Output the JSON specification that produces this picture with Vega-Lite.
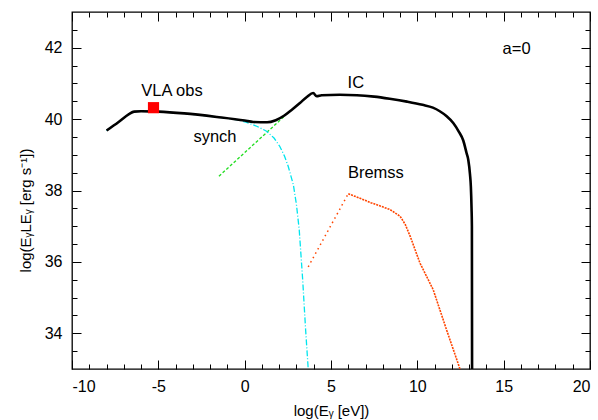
{
  "$schema": "https://vega.github.io/schema/vega-lite/v6.json",
  "width": 518,
  "height": 357,
  "autosize": "none",
  "padding": {"left": 72, "top": 12, "right": 8, "bottom": 51},
  "background": "white",
  "config": {
    "view": {"stroke": "black", "strokeWidth": 1.3},
    "font": "Liberation Sans",
    "axis": {"domain": false, "ticks": false, "labelFont": "Liberation Sans", "titleFont": "Liberation Sans", "labelFontSize": 16, "titleFontSize": 15, "titleFontWeight": "normal", "labelColor": "black", "titleColor": "black"}
  },
  "datasets": {
    "total": [
      {"x": -8.0, "y": 39.68}, {"x": -7.3, "y": 39.92}, {"x": -6.7, "y": 40.14}, {"x": -6.4, "y": 40.21}, {"x": -6.0, "y": 40.22},
      {"x": -5.0, "y": 40.21}, {"x": -3.5, "y": 40.16}, {"x": -1.6, "y": 40.06}, {"x": 0.0, "y": 39.96}, {"x": 0.5, "y": 39.92},
      {"x": 1.3, "y": 39.91}, {"x": 1.8, "y": 39.97}, {"x": 2.3, "y": 40.1}, {"x": 2.7, "y": 40.25}, {"x": 3.2, "y": 40.45},
      {"x": 3.6, "y": 40.62}, {"x": 3.97, "y": 40.73}, {"x": 4.17, "y": 40.64}, {"x": 4.46, "y": 40.67}, {"x": 5.5, "y": 40.68},
      {"x": 6.5, "y": 40.67}, {"x": 7.5, "y": 40.63}, {"x": 8.4, "y": 40.57}, {"x": 9.4, "y": 40.49}, {"x": 10.3, "y": 40.4},
      {"x": 10.9, "y": 40.32}, {"x": 11.3, "y": 40.22}, {"x": 11.7, "y": 40.08}, {"x": 12.08, "y": 39.89}, {"x": 12.4, "y": 39.65},
      {"x": 12.66, "y": 39.4}, {"x": 12.85, "y": 39.05}, {"x": 12.95, "y": 38.86}, {"x": 13.05, "y": 38.45}, {"x": 13.1, "y": 38.11},
      {"x": 13.14, "y": 37.5}, {"x": 13.16, "y": 37.0}, {"x": 13.17, "y": 33.0}
    ],
    "synch": [
      {"x": -8.0, "y": 39.68}, {"x": -7.3, "y": 39.92}, {"x": -6.7, "y": 40.14}, {"x": -6.4, "y": 40.21}, {"x": -6.0, "y": 40.22},
      {"x": -5.0, "y": 40.21}, {"x": -3.5, "y": 40.16}, {"x": -1.6, "y": 40.06}, {"x": -0.4, "y": 39.98}, {"x": 0.11, "y": 39.91},
      {"x": 0.7, "y": 39.8}, {"x": 1.27, "y": 39.66}, {"x": 1.7, "y": 39.47}, {"x": 2.03, "y": 39.24}, {"x": 2.3, "y": 38.97},
      {"x": 2.52, "y": 38.68}, {"x": 2.82, "y": 38.16}, {"x": 3.0, "y": 37.6}, {"x": 3.16, "y": 36.9}, {"x": 3.36, "y": 35.5},
      {"x": 3.53, "y": 34.1}, {"x": 3.68, "y": 33.0}
    ],
    "ic": [
      {"x": -1.49, "y": 38.4}, {"x": 2.3, "y": 40.08}
    ],
    "bremss": [
      {"x": 3.68, "y": 35.86}, {"x": 6.0, "y": 37.91}, {"x": 6.8, "y": 37.76}, {"x": 7.3, "y": 37.66}, {"x": 8.4, "y": 37.47},
      {"x": 9.0, "y": 37.28}, {"x": 9.3, "y": 37.05}, {"x": 9.6, "y": 36.7}, {"x": 10.15, "y": 35.97}, {"x": 10.92, "y": 35.22},
      {"x": 11.69, "y": 34.1}, {"x": 12.47, "y": 33.0}
    ],
    "obs": [{"x": -5.28, "y": 40.32}],
    "labels": [
      {"x": -4.21, "y": 40.78, "text": "VLA obs"},
      {"x": -1.72, "y": 39.5, "text": "synch"},
      {"x": 6.44, "y": 41.01, "text": "IC"},
      {"x": 7.6, "y": 38.49, "text": "Bremss"},
      {"x": 15.75, "y": 41.96, "text": "a=0"}
    ]
  },
  "resolve": {"axis": {"x": "independent", "y": "independent"}},
  "layer": [
    {
      "data": {"name": "ic"},
      "mark": {"type": "line", "color": "#22dd22", "strokeWidth": 1.3, "strokeDash": [3, 2], "clip": true},
      "encoding": {
        "x": {"field": "x", "type": "quantitative", "scale": {"domain": [-10, 20], "nice": false, "zero": false},
          "axis": {"orient": "bottom", "title": "log(Eᵧ [eV])", "values": [-10, -5, 0, 5, 10, 15, 20], "labelExpr": "toString(datum.value)",
            "ticks": false, "grid": true, "gridColor": "black", "gridWidth": 1, "gridOpacity": 1, "gridDash": [9, 339, 9, 1000],
            "labelPadding": 9, "titleY": 41, "titleBaseline": "middle"}},
        "y": {"field": "y", "type": "quantitative", "scale": {"domain": [33, 43], "nice": false, "zero": false},
          "axis": {"orient": "left", "title": "log(EᵧLEᵧ [erg s⁻¹])", "values": [34, 36, 38, 40, 42],
            "ticks": false, "grid": true, "gridColor": "black", "gridWidth": 1, "gridOpacity": 1, "gridDash": [9, 500, 9, 1000],
            "labelPadding": 10, "titleX": -47, "titleY": 198, "titleBaseline": "middle"}}
      }
    },
    {
      "data": {"name": "synch"},
      "mark": {"type": "line", "color": "#00e5ee", "strokeWidth": 1.3, "strokeDash": [6, 2, 1, 2], "clip": true},
      "encoding": {
        "x": {"field": "x", "type": "quantitative", "scale": {"domain": [-10, 20], "nice": false, "zero": false},
          "axis": {"orient": "top", "title": null, "labels": false, "ticks": false, "values": [-9,-8,-7,-6,-4,-3,-2,-1,1,2,3,4,6,7,8,9,11,12,13,14,16,17,18,19],
            "grid": true, "gridColor": "black", "gridWidth": 1, "gridOpacity": 1, "gridDash": [5, 347, 5, 1000]}},
        "y": {"field": "y", "type": "quantitative", "scale": {"domain": [33, 43], "nice": false, "zero": false},
          "axis": {"orient": "right", "title": null, "labels": false, "ticks": false, "values": [33.5,34.5,35,35.5,36.5,37,37.5,38.5,39,39.5,40.5,41,41.5,42.5],
            "grid": true, "gridColor": "black", "gridWidth": 1, "gridOpacity": 1, "gridDash": [5, 508, 5, 1000]}}
      }
    },
    {
      "data": {"name": "bremss"},
      "transform": [{"filter": "datum.x <= 6.0"}],
      "mark": {"type": "line", "color": "#ff4500", "strokeWidth": 1.5, "strokeDash": [1.5, 3.5], "clip": true},
      "encoding": {
        "x": {"field": "x", "type": "quantitative", "scale": {"domain": [-10, 20], "nice": false, "zero": false}, "axis": null},
        "y": {"field": "y", "type": "quantitative", "scale": {"domain": [33, 43], "nice": false, "zero": false}, "axis": null}
      }
    },
    {
      "data": {"name": "bremss"},
      "transform": [{"filter": "datum.x >= 6.0"}],
      "mark": {"type": "line", "color": "#ff4500", "strokeWidth": 1.6, "strokeDash": [2, 1], "clip": true},
      "encoding": {
        "x": {"field": "x", "type": "quantitative", "scale": {"domain": [-10, 20], "nice": false, "zero": false}, "axis": null},
        "y": {"field": "y", "type": "quantitative", "scale": {"domain": [33, 43], "nice": false, "zero": false}, "axis": null}
      }
    },
    {
      "data": {"name": "total"},
      "mark": {"type": "line", "color": "black", "strokeWidth": 2.6, "clip": true, "interpolate": "monotone"},
      "encoding": {
        "x": {"field": "x", "type": "quantitative", "scale": {"domain": [-10, 20], "nice": false, "zero": false}, "axis": null},
        "y": {"field": "y", "type": "quantitative", "scale": {"domain": [33, 43], "nice": false, "zero": false}, "axis": null}
      }
    },
    {
      "data": {"name": "obs"},
      "mark": {"type": "square", "color": "#ff0000", "size": 125, "opacity": 1, "filled": true},
      "encoding": {
        "x": {"field": "x", "type": "quantitative", "scale": {"domain": [-10, 20], "nice": false, "zero": false}, "axis": null},
        "y": {"field": "y", "type": "quantitative", "scale": {"domain": [33, 43], "nice": false, "zero": false}, "axis": null}
      }
    },
    {
      "data": {"name": "labels"},
      "mark": {"type": "text", "font": "Liberation Sans", "fontSize": 16.5, "color": "black", "align": "center", "baseline": "middle"},
      "encoding": {
        "x": {"field": "x", "type": "quantitative", "scale": {"domain": [-10, 20], "nice": false, "zero": false}, "axis": null},
        "y": {"field": "y", "type": "quantitative", "scale": {"domain": [33, 43], "nice": false, "zero": false}, "axis": null},
        "text": {"field": "text"}
      }
    }
  ]
}
